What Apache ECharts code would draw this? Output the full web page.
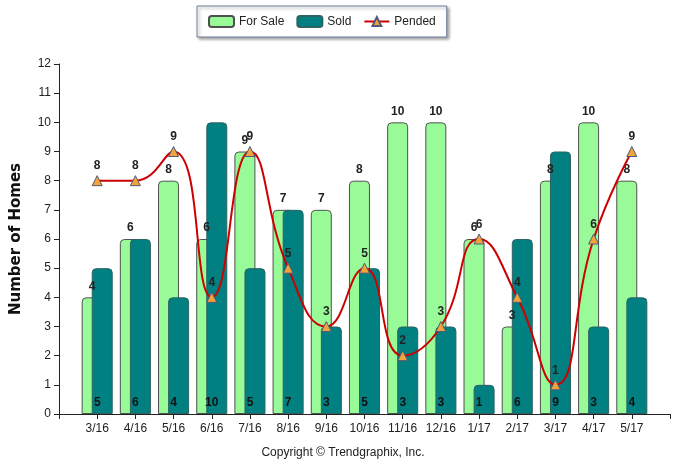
<!DOCTYPE html>
<html>
<head>
<meta charset="utf-8">
<script src="https://cdn.jsdelivr.net/npm/echarts@6/dist/echarts.min.js"></script>
<style>html,body{margin:0;padding:0;background:#fff;}#c{width:686px;height:470px;}</style>
</head>
<body>
<div id="c"></div>
<script>
var categories = ['3/16','4/16','5/16','6/16','7/16','8/16','9/16','10/16','11/16','12/16','1/17','2/17','3/17','4/17','5/17'];
var forSale = [4,6,8,6,9,7,7,8,10,10,6,3,8,10,8];
var sold = [5,6,4,10,5,7,3,5,3,3,1,6,9,3,4];
var pended = [8,8,9,4,9,5,3,5,2,3,6,4,1,6,9];
var yTicks = [0,1,2,3,4,5,6,7,8,9,10,11,12];

function pad(arr){ return ['-'].concat(arr).concat(['-']); }
var xCats = [''].concat(categories).concat(['']);

var chart = echarts.init(document.getElementById('c'));
var font = 'Liberation Sans, Arial, sans-serif';
chart.setOption({
  animation: false,
  textStyle: {fontFamily: font},
  grid: {left: 59, right: 16, top: 64, bottom: 56, containLabel: false, outerBoundsMode: 'none'},
  legend: {
    left: 197, top: 6,
    padding: [9, 11, 9, 11],
    borderColor: '#6b7d99', borderWidth: 1,
    backgroundColor: '#fff',
    shadowColor: 'rgba(0,0,0,0.35)', shadowBlur: 3, shadowOffsetX: 2, shadowOffsetY: 2,
    itemWidth: 25, itemHeight: 11, itemGap: 12,
    textStyle: {fontSize: 12, color: '#222', fontFamily: font},
    data: ['For Sale','Sold','Pended']
  },
  xAxis: {
    type: 'category', data: xCats, boundaryGap: false,
    axisLine: {lineStyle: {color: '#222'}},
    axisTick: {show: true, length: 5, interval: 0, lineStyle: {color: '#222'}},
    axisLabel: {interval: 0, fontSize: 12, color: '#222', margin: 9, fontFamily: font},
    splitLine: {show: false}
  },
  yAxis: {
    type: 'value', min: yTicks[0], max: yTicks[yTicks.length-1], interval: 1,
    name: 'Number of Homes', nameLocation: 'middle', nameGap: 35,
    nameTextStyle: {fontSize: 15, fontWeight: 'bold', color: '#111', fontFamily: 'DejaVu Sans, sans-serif'},
    axisLine: {show: true, lineStyle: {color: '#222'}},
    axisTick: {show: true, length: 5, lineStyle: {color: '#222'}},
    axisLabel: {fontSize: 12, color: '#222', margin: 8, fontFamily: font},
    splitLine: {show: false}
  },
  series: [
    {
      name: 'For Sale', type: 'bar', data: pad(forSale),
      barWidth: 21, barGap: '-52%',
      itemStyle: {color: '#98FB98', borderColor: '#505050', borderWidth: 1, borderRadius: [4,4,0,0]},
      label: {show: true, position: 'top', distance: 5, fontSize: 12, fontWeight: 'bold', color: '#222', fontFamily: font}
    },
    {
      name: 'Sold', type: 'bar', data: pad(sold),
      barWidth: 21,
      itemStyle: {color: '#008080', borderColor: '#2f6262', borderWidth: 1, borderRadius: [4,4,0,0]},
      label: {show: true, position: 'insideBottom', distance: 5, offset: [-5, 0], fontSize: 12, fontWeight: 'bold', color: '#111', fontFamily: font}
    },
    {
      name: 'Pended', type: 'line', data: pad(pended), smooth: 0.5, connectNulls: false,
      symbol: 'triangle', symbolSize: 10, showAllSymbol: true,
      lineStyle: {color: '#CC0000', width: 2},
      itemStyle: {color: '#F2A33A', borderColor: '#4d5b7c', borderWidth: 1},
      label: {show: true, position: 'top', distance: 3, fontSize: 12, fontWeight: 'bold', color: '#222', fontFamily: font},
      z: 5
    }
  ],
  graphic: [{
    type: 'text', left: 'center', top: 447,
    style: {text: 'Copyright \u00A9 Trendgraphix, Inc.', fontSize: 12, fill: '#222', fontFamily: font}
  }]
});
</script>
</body>
</html>
